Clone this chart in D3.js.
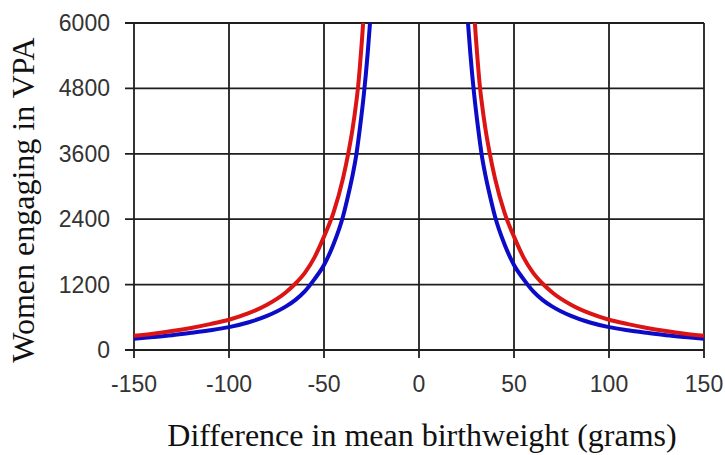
<!DOCTYPE html>
<html lang="en">
<head>
    <meta charset="UTF-8">
    <title>Women engaging in VPA vs difference in mean birthweight</title>
    <style>
        html, body {
            margin: 0;
            padding: 0;
            background: #fff;
        }
        svg {
            display: block;
        }
        .tick-label {
            font-family: "Liberation Sans", Arial, sans-serif;
            font-size: 23px;
            fill: #333;
        }
        .axis-title {
            font-family: "Liberation Serif", "Times New Roman", serif;
            font-size: 32px;
            fill: #111;
        }
    </style>
</head>
<body>
    <svg id="chart" width="725" height="455"></svg>
    <script src="https://cdn.jsdelivr.net/npm/d3@7"></script>
    <script>
        // x ticks and y ticks
        const xTicks = [-150, -100, -50, 0, 50, 100, 150];
        const yTicks = [0, 1200, 2400, 3600, 4800, 6000];

        // absolute difference (grams); both branches are mirrored
        const diffs = [150, 140, 130, 120, 110, 100, 90, 80, 70, 65, 60, 55, 50, 45, 40, 37, 35, 33, 32, 31, 30, 29];
        const redValues = [262, 300, 348, 405, 475, 555, 670, 830, 1060, 1220, 1420, 1700, 2080, 2520, 3150, 3650, 4050, 4550, 4850, 5250, 5700, 6200];

        const blueDiffs = [150, 140, 130, 120, 110, 100, 90, 80, 70, 65, 60, 55, 50, 45, 40, 37, 35, 33, 31, 29, 28, 27, 26, 25];
        const blueValues = [208, 238, 272, 315, 362, 420, 505, 625, 800, 920, 1080, 1300, 1560, 1940, 2450, 2880, 3200, 3580, 4100, 4700, 5050, 5450, 5900, 6400];

        const svg = d3.select('#chart');
        const plotLeft = 134, plotRight = 704, plotTop = 23, plotBottom = 350;

        const x = d3.scaleLinear().domain([-150, 150]).range([plotLeft, plotRight]);
        const y = d3.scaleLinear().domain([0, 6000]).range([plotBottom, plotTop]);

        svg.append('defs').append('clipPath').attr('id', 'plot-clip')
            .append('rect')
            .attr('x', plotLeft).attr('y', plotTop)
            .attr('width', plotRight - plotLeft).attr('height', plotBottom - plotTop);

        // grid lines + tick marks
        const grid = svg.append('g').attr('stroke', '#1e1e1e').attr('stroke-width', 1.8);

        grid.selectAll('.vline')
            .data(xTicks)
            .enter()
            .append('line')
            .attr('x1', d => x(d)).attr('x2', d => x(d))
            .attr('y1', plotTop).attr('y2', plotBottom + 8);

        grid.selectAll('.hline')
            .data(yTicks)
            .enter()
            .append('line')
            .attr('x1', plotLeft - 9).attr('x2', plotRight)
            .attr('y1', d => y(d)).attr('y2', d => y(d));

        // tick labels
        svg.selectAll('.xlab')
            .data(xTicks)
            .enter()
            .append('text')
            .attr('class', 'tick-label')
            .attr('x', d => x(d))
            .attr('y', 392)
            .attr('text-anchor', 'middle')
            .text(d => d);

        svg.selectAll('.ylab')
            .data(yTicks)
            .enter()
            .append('text')
            .attr('class', 'tick-label')
            .attr('x', 110)
            .attr('y', d => y(d) + 8)
            .attr('text-anchor', 'end')
            .text(d => d);

        // curves, left branch and right branch
        function branches(ds, vs) {
            const leftSide = ds.map((d, i) => ({ x: -d, v: vs[i] }));
            const gap = { x: 0, v: null };
            const rightSide = ds.map((d, i) => ({ x: d, v: vs[i] })).reverse();
            return leftSide.concat([gap], rightSide);
        }

        const line = d3.line()
            .defined(d => d.v !== null)
            .x(d => x(d.x))
            .y(d => y(d.v))
            .curve(d3.curveMonotoneX);

        const curves = svg.append('g').attr('clip-path', 'url(#plot-clip)');

        curves.append('path')
            .datum(branches(blueDiffs, blueValues))
            .attr('fill', 'none')
            .attr('stroke', '#0c0cc8')
            .attr('stroke-width', 4)
            .attr('d', line);

        curves.append('path')
            .datum(branches(diffs, redValues))
            .attr('fill', 'none')
            .attr('stroke', '#dc1414')
            .attr('stroke-width', 4)
            .attr('d', line);

        // axis titles
        svg.append('text')
            .attr('class', 'axis-title')
            .attr('x', 422)
            .attr('y', 446)
            .attr('text-anchor', 'middle')
            .text('Difference in mean birthweight (grams)');

        svg.append('text')
            .attr('class', 'axis-title')
            .attr('transform', 'translate(34,200) rotate(-90)')
            .attr('text-anchor', 'middle')
            .text('Women engaging in VPA');
    </script>
</body>
</html>
